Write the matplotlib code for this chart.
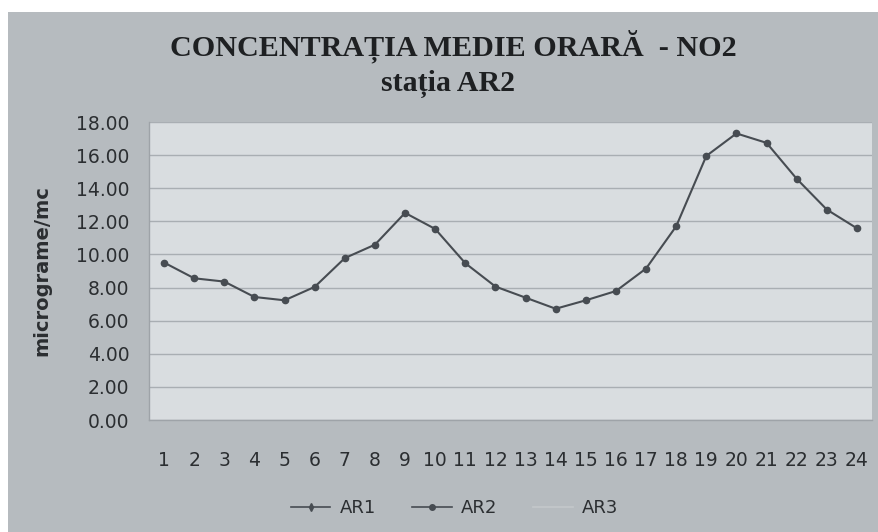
import matplotlib

matplotlib.use("Agg")

import matplotlib.pyplot as plt
from matplotlib.patches import Rectangle


hours = list(range(1, 25))
ar2_values = [
    9.51, 8.56, 8.36, 7.43, 7.23, 8.04, 9.78, 10.59, 12.51, 11.54, 9.47, 8.06,
    7.39, 6.72, 7.23, 7.79, 9.15, 11.70, 15.95, 17.31, 16.74, 14.57, 12.71, 11.58,
]
y_ticks = [0, 2, 4, 6, 8, 10, 12, 14, 16, 18]
series_names = ["AR1", "AR2", "AR3"]

OUTER = "#b6bbbf"
PLOT_BG = "#d9dde0"
LINE = "#474c52"
GRID = "#a9aeb3"
TEXT = "#2b2e31"

figure = plt.figure(figsize=(8.79, 5.32), dpi=100, facecolor="white")
figure.patches.append(
    Rectangle((8 / 879, 0), 1, 1 - 12 / 532, transform=figure.transFigure,
              facecolor=OUTER, edgecolor="none", zorder=-10)
)

axis = figure.add_axes([149 / 879, 1 - 420 / 532, (872 - 149) / 879, (420 - 122) / 532])
axis.set_facecolor(PLOT_BG)

axis.plot(hours, ar2_values, color=LINE, linewidth=1.5, marker="o",
          markersize=4.5, markerfacecolor=LINE, markeredgecolor=LINE, zorder=3)

axis.set_xlim(0.5, 24.5)
axis.set_ylim(0, 18)
axis.set_xticks(hours)
axis.set_xticklabels([str(h) for h in hours])
axis.set_yticks(y_ticks)
axis.set_yticklabels([f"{v:.2f}" for v in y_ticks])
axis.grid(axis="y", color=GRID, linewidth=1.0)
axis.set_axisbelow(True)
axis.tick_params(axis="both", length=0, labelsize=13.5, colors=TEXT)
axis.tick_params(axis="y", pad=14)
axis.tick_params(axis="x", pad=22)
for side in ["top", "right"]:
    axis.spines[side].set_visible(False)
for side in ["left", "bottom"]:
    axis.spines[side].set_color("#9ea3a8")
    axis.spines[side].set_linewidth(1.0)

axis.set_ylabel("micrograme/mc", fontsize=14, fontweight="bold", color=TEXT, labelpad=18)

figure.text(0.516, 1 - 46 / 532, "CONCENTRAȚIA MEDIE ORARĂ  - NO2",
            ha="center", va="center", fontsize=21.7, fontweight="bold",
            family="Liberation Serif", color="#1e2022")
figure.text(0.51, 1 - 84 / 532, "stația AR2",
            ha="center", va="center", fontsize=21.5, fontweight="bold",
            family="Liberation Serif", color="#1e2022")

# legend: AR1 and AR3 carry no data in the source chart
handles = [
    axis.plot([], [], color=LINE, linewidth=1.2, marker="d", markersize=4)[0],
    axis.plot([], [], color=LINE, linewidth=1.2, marker="o", markersize=4)[0],
    axis.plot([], [], color="#c4c8cb", linewidth=1.2)[0],
]
figure.legend(handles, series_names, loc="center", bbox_to_anchor=(0.517, 1 - 508 / 532),
              ncol=3, frameon=False, fontsize=13, handlelength=2.2, handletextpad=0.5,
              columnspacing=2.0, labelcolor=TEXT)

figure.savefig("out.png", dpi=100, facecolor=figure.get_facecolor())
plt.close(figure)
